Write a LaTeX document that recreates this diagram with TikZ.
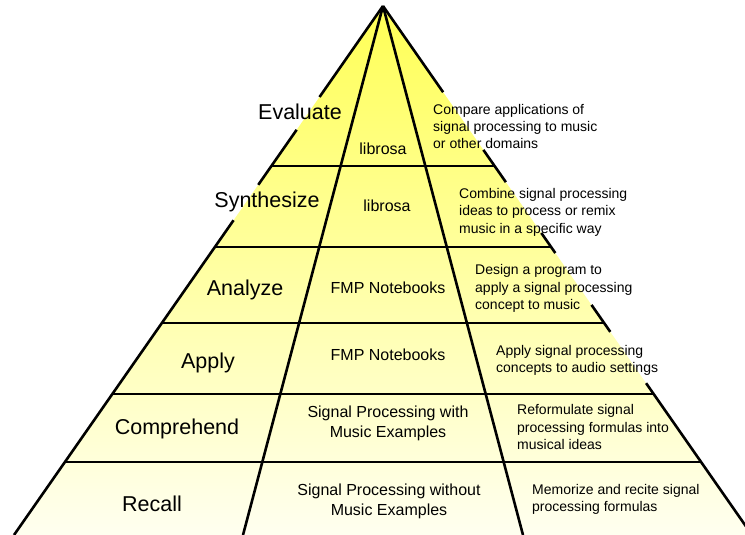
\documentclass[tikz,border=0pt]{standalone}
\usepackage{fontspec}
\setmainfont{Liberation Sans}
\usepackage{tikz}
\usetikzlibrary{calc}

\definecolor{pyrtop}{RGB}{255,255,85}
\definecolor{pyrbase}{RGB}{255,255,240}

\tikzset{
    level/.style={font=\fontsize{21.5}{26}\selectfont, inner sep=0pt},
    tool/.style={font=\fontsize{16}{20}\selectfont, align=center, inner sep=0pt},
    goal/.style={font=\fontsize{14}{17.4}\selectfont, align=left, anchor=west, inner sep=0pt},
    sideline/.style={line width=2.6pt},
    rowline/.style={line width=1.3pt},
}

\begin{document}
\begin{tikzpicture}[x=1pt, y=-1pt]
    \useasboundingbox (0, 0) rectangle (745, 535);
    \coordinate (top) at (383, 6);
    \coordinate (bl) at (14, 535);
    \coordinate (br) at (752, 535);
    \coordinate (il) at (243, 535);
    \coordinate (ir) at (523, 535);

    \shade[top color=pyrtop, bottom color=pyrbase] (top) -- (bl) -- (br) -- cycle;

    % level boundaries
    \foreach \t in {0.3025, 0.4556, 0.5992, 0.7335, 0.862}
        \draw[rowline] ($(top)!\t!(bl)$) -- ($(top)!\t!(br)$);

    \draw[sideline] (top) -- (il);
    \draw[sideline] (top) -- (ir);

    % outer sides, broken where the labels sit
    \foreach \a/\b in {0/0.172, 0.234/0.338, 0.405/1}
        \draw[sideline] ($(top)!\a!(bl)$) -- ($(top)!\b!(bl)$);
    \foreach \a/\b in {0/0.163, 0.272/0.333, 0.429/0.467, 0.565/0.616, 0.713/1}
        \draw[sideline] ($(top)!\a!(br)$) -- ($(top)!\b!(br)$);

    \node[level] (evaluate) at (300, 112) {Evaluate};
    \node[level] (synthesize) at (267, 202) {Synthesize};
    \node[level] (analyze) at (245, 289.5) {Analyze};
    \node[level] (apply) at (208, 363) {Apply};
    \node[level] (comprehend) at (177, 428.5) {Comprehend};
    \node[level] (recall) at (152, 504) {Recall};

    \node[tool] (t1) at (383, 149) {librosa};
    \node[tool] (t2) at (387, 206) {librosa};
    \node[tool] (t3) at (388, 288) {FMP Notebooks};
    \node[tool] (t4) at (388, 355) {FMP Notebooks};
    \node[tool] (t5) at (388, 423) {Signal Processing with\\Music Examples};
    \node[tool] (t6) at (389, 501) {Signal Processing without\\Music Examples};

    \node[goal] (g1) at (433, 126.5) {Compare applications of\\signal processing to music\\or other domains};
    \node[goal] (g2) at (459, 212) {Combine signal processing\\ideas to process or remix\\music in a specific way};
    \node[goal] (g3) at (475, 288.5) {Design a program to\\apply a signal processing\\concept to music};
    \node[goal] (g4) at (496, 360.5) {Apply signal processing\\concepts to audio settings};
    \node[goal] (g5) at (517, 427) {Reformulate signal\\processing formulas into\\musical ideas};
    \node[goal] (g6) at (532, 499.5) {Memorize and recite signal\\processing formulas};
\end{tikzpicture}
\end{document}
